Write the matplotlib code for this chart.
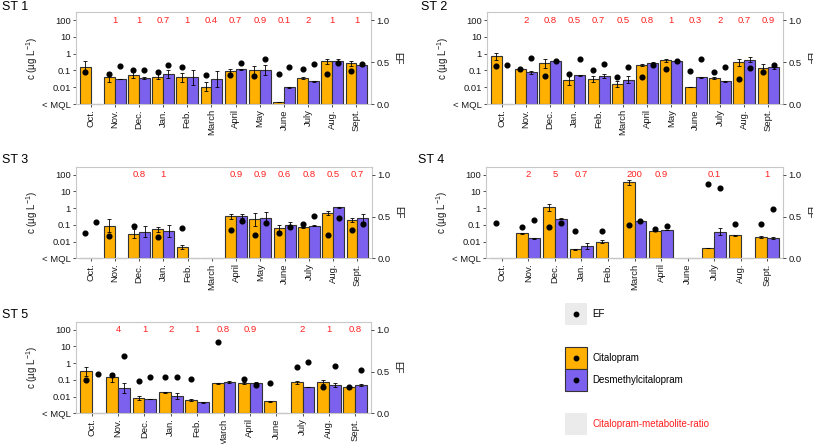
import matplotlib
matplotlib.use("Agg")
import matplotlib.pyplot as plt
from matplotlib.patches import Rectangle
import numpy as np

plt.rcParams['font.family'] = ['Liberation Sans', 'DejaVu Sans']
plt.rcParams['mathtext.fontset'] = 'custom'
plt.rcParams['mathtext.rm'] = 'Liberation Sans'
plt.rcParams['mathtext.it'] = 'Liberation Sans:italic'

# months (ST4 and ST5 have no May sample)
months12 = ['Oct.', 'Nov.', 'Dec.', 'Jan.', 'Feb.', 'March', 'April', 'May', 'June', 'July', 'Aug.', 'Sept.']
months11 = ['Oct.', 'Nov.', 'Dec.', 'Jan.', 'Feb.', 'March', 'April', 'June', 'July', 'Aug.', 'Sept.']

# concentrations in ug/L, 0 = < MQL ; *_hi = upper end of error bar
cit1 = [0.16, 0.040, 0.053, 0.043, 0.039, 0.0107, 0.088, 0.10, 0.0013, 0.035, 0.35, 0.26]
desm1 = [0, 0.031, 0.037, 0.064, 0.039, 0.031, 0.12, 0.106, 0.010, 0.022, 0.36, 0.20]
cit1_hi = [0.35, 0.077, 0.077, 0.064, 0.075, 0.020, 0.12, 0.19, None, 0.04, 0.50, 0.38]
desm1_hi = [None, 0.033, 0.042, 0.11, 0.11, 0.088, 0.13, 0.22, 0.0105, 0.023, 0.46, 0.21]
ef1_cit = [0.38, 0.357, 0.41, 0.385, 0.437, 0.35, 0.35, 0.337, 0.357, 0.413, 0.361, 0.389]
ef1_desm = [None, 0.456, 0.405, 0.468, None, None, 0.488, 0.54, 0.437, 0.476, 0.484, 0.48]
ratio1 = ['', '1', '1', '0.7', '1', '0.4', '0.7', '0.9', '0.1', '2', '1', '1']

cit2 = [0.69, 0.115, 0.26, 0.027, 0.032, 0.015, 0.22, 0.40, 0.0102, 0.035, 0.30, 0.14]
desm2 = [0, 0.076, 0.35, 0.051, 0.045, 0.028, 0.26, 0.35, 0.039, 0.022, 0.44, 0.16]
cit2_hi = [1.08, 0.12, 0.47, 0.055, 0.048, 0.023, 0.25, 0.5, None, 0.038, 0.47, 0.24]
desm2_hi = [None, 0.09, 0.4, 0.055, 0.06, 0.045, 0.33, 0.37, 0.041, 0.024, 0.6, 0.22]
ef2_cit = [0.456, 0.42, 0.337, 0.361, 0.40, 0.317, 0.317, 0.42, 0.397, 0.377, 0.30, 0.377]
ef2_desm = [0.464, 0.548, 0.508, 0.54, 0.472, 0.437, 0.468, 0.508, 0.54, 0.44, 0.43, 0.468]
ratio2 = ['', '2', '0.8', '0.5', '0.7', '0.5', '0.8', '1', '0.3', '2', '0.7', '0.9']

cit3 = [0, 0.091, 0.030, 0.055, 0.0047, 0, 0.32, 0.22, 0.063, 0.072, 0.54, 0.195]
desm3 = [0, 0, 0.040, 0.044, 0, 0, 0.34, 0.26, 0.10, 0.091, 1.1, 0.27]
cit3_hi = [None, 0.21, 0.055, 0.079, 0.006, None, 0.46, 0.53, 0.095, 0.075, 0.70, 0.27]
desm3_hi = [None, None, 0.083, 0.10, None, None, 0.42, 0.58, 0.14, 0.10, 1.15, 0.46]
ef3_cit = [0.30, 0.265, 0.383, 0.26, 0.364, None, 0.344, 0.28, 0.30, 0.407, 0.28, 0.34]
ef3_desm = [0.439, None, None, None, None, None, 0.45, 0.423, 0.38, 0.502, 0.478, 0.415]
ratio3 = ['', '', '0.8', '1', '', '', '0.9', '0.9', '0.6', '0.8', '0.5', '0.7']

cit4 = [0, 0.032, 1.1, 0.0034, 0.0098, 35, 0.046, 0, 0.0041, 0.024, 0.018]
desm4 = [0, 0.016, 0.23, 0.0051, 0, 0.18, 0.048, 0, 0.040, 0, 0.0155]
cit4_hi = [None, 0.034, 1.7, 0.0036, 0.012, 48, 0.05, None, 0.0043, 0.026, 0.021]
desm4_hi = [None, 0.017, 0.25, 0.0077, None, 0.19, 0.05, None, 0.065, None, 0.018]
ef4_cit = [0.419, 0.379, 0.375, 0.328, 0.328, 0.395, 0.348, None, 0.889, 0.407, 0.407]
ef4_desm = [None, 0.458, 0.427, None, None, 0.45, 0.391, None, 0.846, None, 0.593]
ratio4 = ['', '2', '5', '0.7', '', '200', '0.9', '', '0.1', '', '1']

cit5 = [0.32, 0.14, 0.0085, 0.018, 0.0059, 0.061, 0.062, 0.0051, 0.071, 0.071, 0.037]
desm5 = [0, 0.031, 0.0074, 0.011, 0.0045, 0.074, 0.068, 0, 0.037, 0.051, 0.049]
cit5_hi = [0.63, 0.26, 0.011, 0.019, 0.0068, 0.066, 0.07, 0.0052, 0.085, 0.095, 0.04]
desm5_hi = [None, 0.061, 0.0076, 0.016, 0.0047, 0.085, 0.075, None, 0.039, 0.068, 0.054]
ef5_cit = [0.397, 0.456, 0.381, 0.437, 0.409, 0.849, 0.405, 0.357, 0.552, 0.317, 0.313]
ef5_desm = [0.468, 0.683, 0.433, 0.433, None, None, 0.341, None, 0.619, 0.571, 0.524]
ratio5 = ['', '4', '1', '2', '1', '0.8', '0.9', '', '2', '1', '0.8']

MQL = 0.001
YTOP = 10 ** 2.48
ORANGE = '#FFB000'
PURPLE = '#7B61EE'
W, H = 813, 444
FS = 6.8


def px_axes(fig, left, right, top, bottom):
    return fig.add_axes([left / W, 1 - bottom / H, (right - left) / W, (bottom - top) / H])


def panel(fig, box, title, title_xy, months, cit, desm, cit_hi, desm_hi, ef_cit, ef_desm, ratio):
    ax = px_axes(fig, *box)
    x = np.arange(len(months))
    bw = 0.45
    for vals, his, off, col in [(cit, cit_hi, -bw / 2, ORANGE), (desm, desm_hi, bw / 2, PURPLE)]:
        for xi, v, hi in zip(x, vals, his):
            if v:
                ax.bar(xi + off, v - MQL, bottom=MQL, width=bw, color=col,
                       edgecolor='#333333', linewidth=0.8, zorder=2)
                up = hi if hi else v * 1.04
                lo = v * v / up
                ax.errorbar(xi + off, v, yerr=[[v - lo], [up - v]], fmt='none',
                            ecolor='black', elinewidth=0.6, capsize=1.3, capthick=0.6, zorder=3)
            else:
                ax.plot([xi + off - bw / 2, xi + off + bw / 2], [MQL, MQL],
                        color='#aaaaaa', linewidth=0.9, zorder=2, clip_on=False)
    for xi, r in zip(x, ratio):
        if r:
            ax.text(xi, 100, r, color='#FF2020', ha='center', va='center', fontsize=FS)
    ax.set_yscale('log')
    ax.set_ylim(MQL, YTOP)
    ax.set_xlim(-0.6, len(months) - 0.4)
    ax.set_yticks([MQL, 0.01, 0.1, 1, 10, 100])
    ax.set_yticklabels(['< MQL', '0.01', '0.1', '1', '10', '100'])
    ax.minorticks_off()
    ax.set_xticks(x)
    ax.set_xticklabels(months, rotation=90)
    ax.tick_params(labelsize=FS, length=2.2, width=0.6, color='#333333', pad=1.5, labelcolor='#1a1a1a')
    for s in ax.spines.values():
        s.set_color('#c8c8c8')
        s.set_linewidth(0.8)
    wpx = box[1] - box[0]
    ax.set_ylabel('c (µg L$^{-1}$)', fontsize=FS + 0.3, color='#1a1a1a', va='center')
    ax.yaxis.set_label_coords(-44 / wpx, 0.5)

    ax2 = ax.twinx()
    ax2.set_ylim(0, np.log10(YTOP / MQL) / 5)
    for vals, off in [(ef_cit, -bw / 2), (ef_desm, bw / 2)]:
        xs = [xi + off for xi, v in zip(x, vals) if v is not None]
        ys = [v for v in vals if v is not None]
        ax2.plot(xs, ys, 'o', color='black', markersize=3.4, zorder=4, clip_on=False)
    ax2.set_yticks([0, 0.5, 1.0])
    ax2.set_yticklabels(['0.0', '0.5', '1.0'])
    ax2.tick_params(labelsize=FS, length=2.2, width=0.6, color='#333333', pad=1.5, labelcolor='#1a1a1a')
    for s in ax2.spines.values():
        s.set_visible(False)
    ax2.set_ylabel('EF', fontsize=FS + 0.3, rotation=270, color='#1a1a1a', va='center', ha='center')
    ax2.yaxis.set_label_coords(1 + 26 / wpx, 0.5)

    fig.text(title_xy[0] / W, 1 - title_xy[1] / H, title, fontsize=9, va='center', ha='left')
    return ax


fig = plt.figure(figsize=(W / 100, H / 100), dpi=100)

panel(fig, (76, 371, 12, 104), 'ST 1', (2, 7), months12, cit1, desm1, cit1_hi, desm1_hi, ef1_cit, ef1_desm, ratio1)
panel(fig, (487, 783, 12, 104), 'ST 2', (421, 7), months12, cit2, desm2, cit2_hi, desm2_hi, ef2_cit, ef2_desm, ratio2)
panel(fig, (76, 372, 166.7, 258.3), 'ST 3', (2, 160), months12, cit3, desm3, cit3_hi, desm3_hi, ef3_cit, ef3_desm, ratio3)
panel(fig, (486, 783, 166.7, 258.3), 'ST 4', (418, 160), months11, cit4, desm4, cit4_hi, desm4_hi, ef4_cit, ef4_desm, ratio4)
panel(fig, (76, 371, 321.7, 413.3), 'ST 5', (2, 315), months11, cit5, desm5, cit5_hi, desm5_hi, ef5_cit, ef5_desm, ratio5)

# legend drawn in pixel coordinates
lg = fig.add_axes([0, 0, 1, 1], facecolor='none')
lg.set_xlim(0, W)
lg.set_ylim(H, 0)
lg.axis('off')
keys = [
    (303, '#EBEBEB', 'none', True, 'EF', 'black'),
    (347.3, ORANGE, '#333333', True, 'Citalopram', 'black'),
    (369.3, PURPLE, '#333333', True, 'Desmethylcitalopram', 'black'),
    (413, '#EBEBEB', 'none', False, 'Citalopram-metabolite-ratio', '#FF2020'),
]
for y0, fc, ec, dot, label, tc in keys:
    lg.add_patch(Rectangle((565, y0), 22, 22, facecolor=fc, edgecolor=ec, linewidth=0.8))
    if dot:
        lg.plot(576, y0 + 11, 'o', color='black', markersize=3.2)
    lg.text(592, y0 + 11, label, fontsize=FS + 0.2, color=tc, va='center', ha='left')

fig.savefig('out.png', dpi=100)
